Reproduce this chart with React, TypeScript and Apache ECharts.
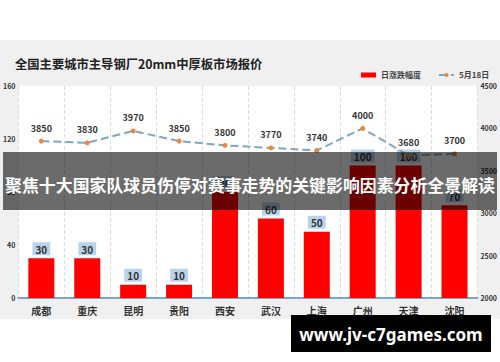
import React, { useEffect, useRef } from "react";
import * as echarts from "echarts";

const categories = ["成都", "重庆", "昆明", "贵阳", "西安", "武汉", "上海", "广州", "天津", "沈阳"];
const dailyChange = [30, 30, 10, 10, 80, 60, 50, 100, 100, 70];
const may18Price = [3850, 3830, 3970, 3850, 3800, 3770, 3740, 4000, 3680, 3700];
const leftTicks = { min: 0, max: 160, interval: 40 };
const rightTicks = { min: 2000, max: 4500, interval: 500 };
const titleText = "全国主要城市主导钢厂20mm中厚板市场报价";
const bannerText = "聚焦十大国家队球员伤停对赛事走势的关键影响因素分析全景解读";
const watermarkText = "www.jv-c7games.com";

const FONT = "'Noto Sans CJK SC', 'Noto Sans', sans-serif";

export default function App() {
  const ref = useRef<HTMLDivElement>(null);
  useEffect(() => {
    document.body.style.margin = "0";
    if (!ref.current) return;
    const chart = echarts.init(ref.current, null, { renderer: "svg" });
    chart.setOption({
      animation: false,
      backgroundColor: "#f0f0f0",
      textStyle: { fontFamily: FONT },
      title: {
        text: titleText,
        left: 10,
        top: 53,
        textStyle: { fontSize: 12.3, fontWeight: "bold", color: "#222", fontFamily: FONT },
      },
      legend: {
        left: 356,
        top: 66,
        itemGap: 17,
        itemWidth: 15,
        itemHeight: 5,
        textStyle: { fontSize: 8, fontWeight: "bold", color: "#444", fontFamily: FONT },
        data: [
          { name: "日涨跌幅度", icon: "rect" },
          { name: "5月18日" },
        ],
      },
      grid: {
        left: 18,
        right: 22,
        top: 86,
        bottom: 64,
        show: true,
        backgroundColor: "#ffffff",
        borderWidth: 0,
      },
      xAxis: {
        type: "category",
        data: categories,
        axisLine: { lineStyle: { color: "#7aa6c8", width: 2 } },
        axisTick: { show: false },
        axisLabel: { fontSize: 10, fontWeight: "bold", color: "#333", margin: 7, fontFamily: FONT },
        splitLine: { show: true, lineStyle: { type: "dashed", color: "#dddddd", width: 1 } },
      },
      yAxis: [
        {
          type: "value",
          min: leftTicks.min,
          max: leftTicks.max,
          interval: leftTicks.interval,
          axisLine: { show: false },
          axisTick: { show: false },
          splitLine: { show: false },
          axisLabel: { fontSize: 7, fontWeight: "bold", color: "#333", margin: 3, fontFamily: FONT },
        },
        {
          type: "value",
          min: rightTicks.min,
          max: rightTicks.max,
          interval: rightTicks.interval,
          axisLine: { show: false },
          axisTick: { show: false },
          splitLine: { show: false },
          axisLabel: {
            fontSize: 7,
            fontWeight: "bold",
            color: "#333",
            margin: 3,
            fontFamily: FONT,
            formatter: (v: number) => String(v),
          },
        },
      ],
      series: [
        {
          name: "日涨跌幅度",
          type: "bar",
          data: dailyChange,
          barWidth: 26,
          itemStyle: { color: "#ff0000" },
          label: {
            show: true,
            position: "top",
            distance: 3,
            fontSize: 10,
            fontWeight: "bold",
            color: "#333",
            backgroundColor: "#b9d3ea",
            padding: [2, 3, 1, 3],
            fontFamily: FONT,
          },
        },
        {
          name: "5月18日",
          type: "line",
          yAxisIndex: 1,
          data: may18Price,
          symbol: "circle",
          symbolSize: 5,
          itemStyle: { color: "#e8883a" },
          lineStyle: { type: "dashed", color: "#7fa5c4", width: 2 },
          label: {
            show: true,
            position: "top",
            distance: 6,
            fontSize: 9,
            fontWeight: "bold",
            color: "#333",
            fontFamily: FONT,
          },
        },
      ],
      graphic: [
        { type: "rect", z: 1, shape: { x: 0, y: 0, width: 500, height: 40 }, style: { fill: "#ffffff" } },
        { type: "rect", z: 1, shape: { x: 0, y: 319, width: 500, height: 43 }, style: { fill: "#ffffff" } },
        {
          type: "rect",
          z: 100,
          shape: { x: 3, y: 152, width: 494, height: 58 },
          style: { fill: "rgba(0,0,0,0.58)" },
        },
        {
          type: "text",
          z: 101,
          x: 250,
          y: 184,
          style: {
            text: bannerText,
            fill: "#ffffff",
            font: `bold 16.9px ${FONT}`,
            textAlign: "center",
            textVerticalAlign: "middle",
          },
        },
        {
          type: "rect",
          z: 100,
          shape: { x: 291, y: 315, width: 200, height: 37 },
          style: { fill: "#000000" },
        },
        {
          type: "text",
          z: 101,
          x: 391,
          y: 334,
          style: {
            text: watermarkText,
            fill: "#ffffff",
            font: `bold 17px 'Noto Sans', sans-serif`,
            textAlign: "center",
            textVerticalAlign: "middle",
          },
        },
      ],
    });
    return () => chart.dispose();
  }, []);
  return <div ref={ref} style={{ width: 500, height: 362 }} />;
}
